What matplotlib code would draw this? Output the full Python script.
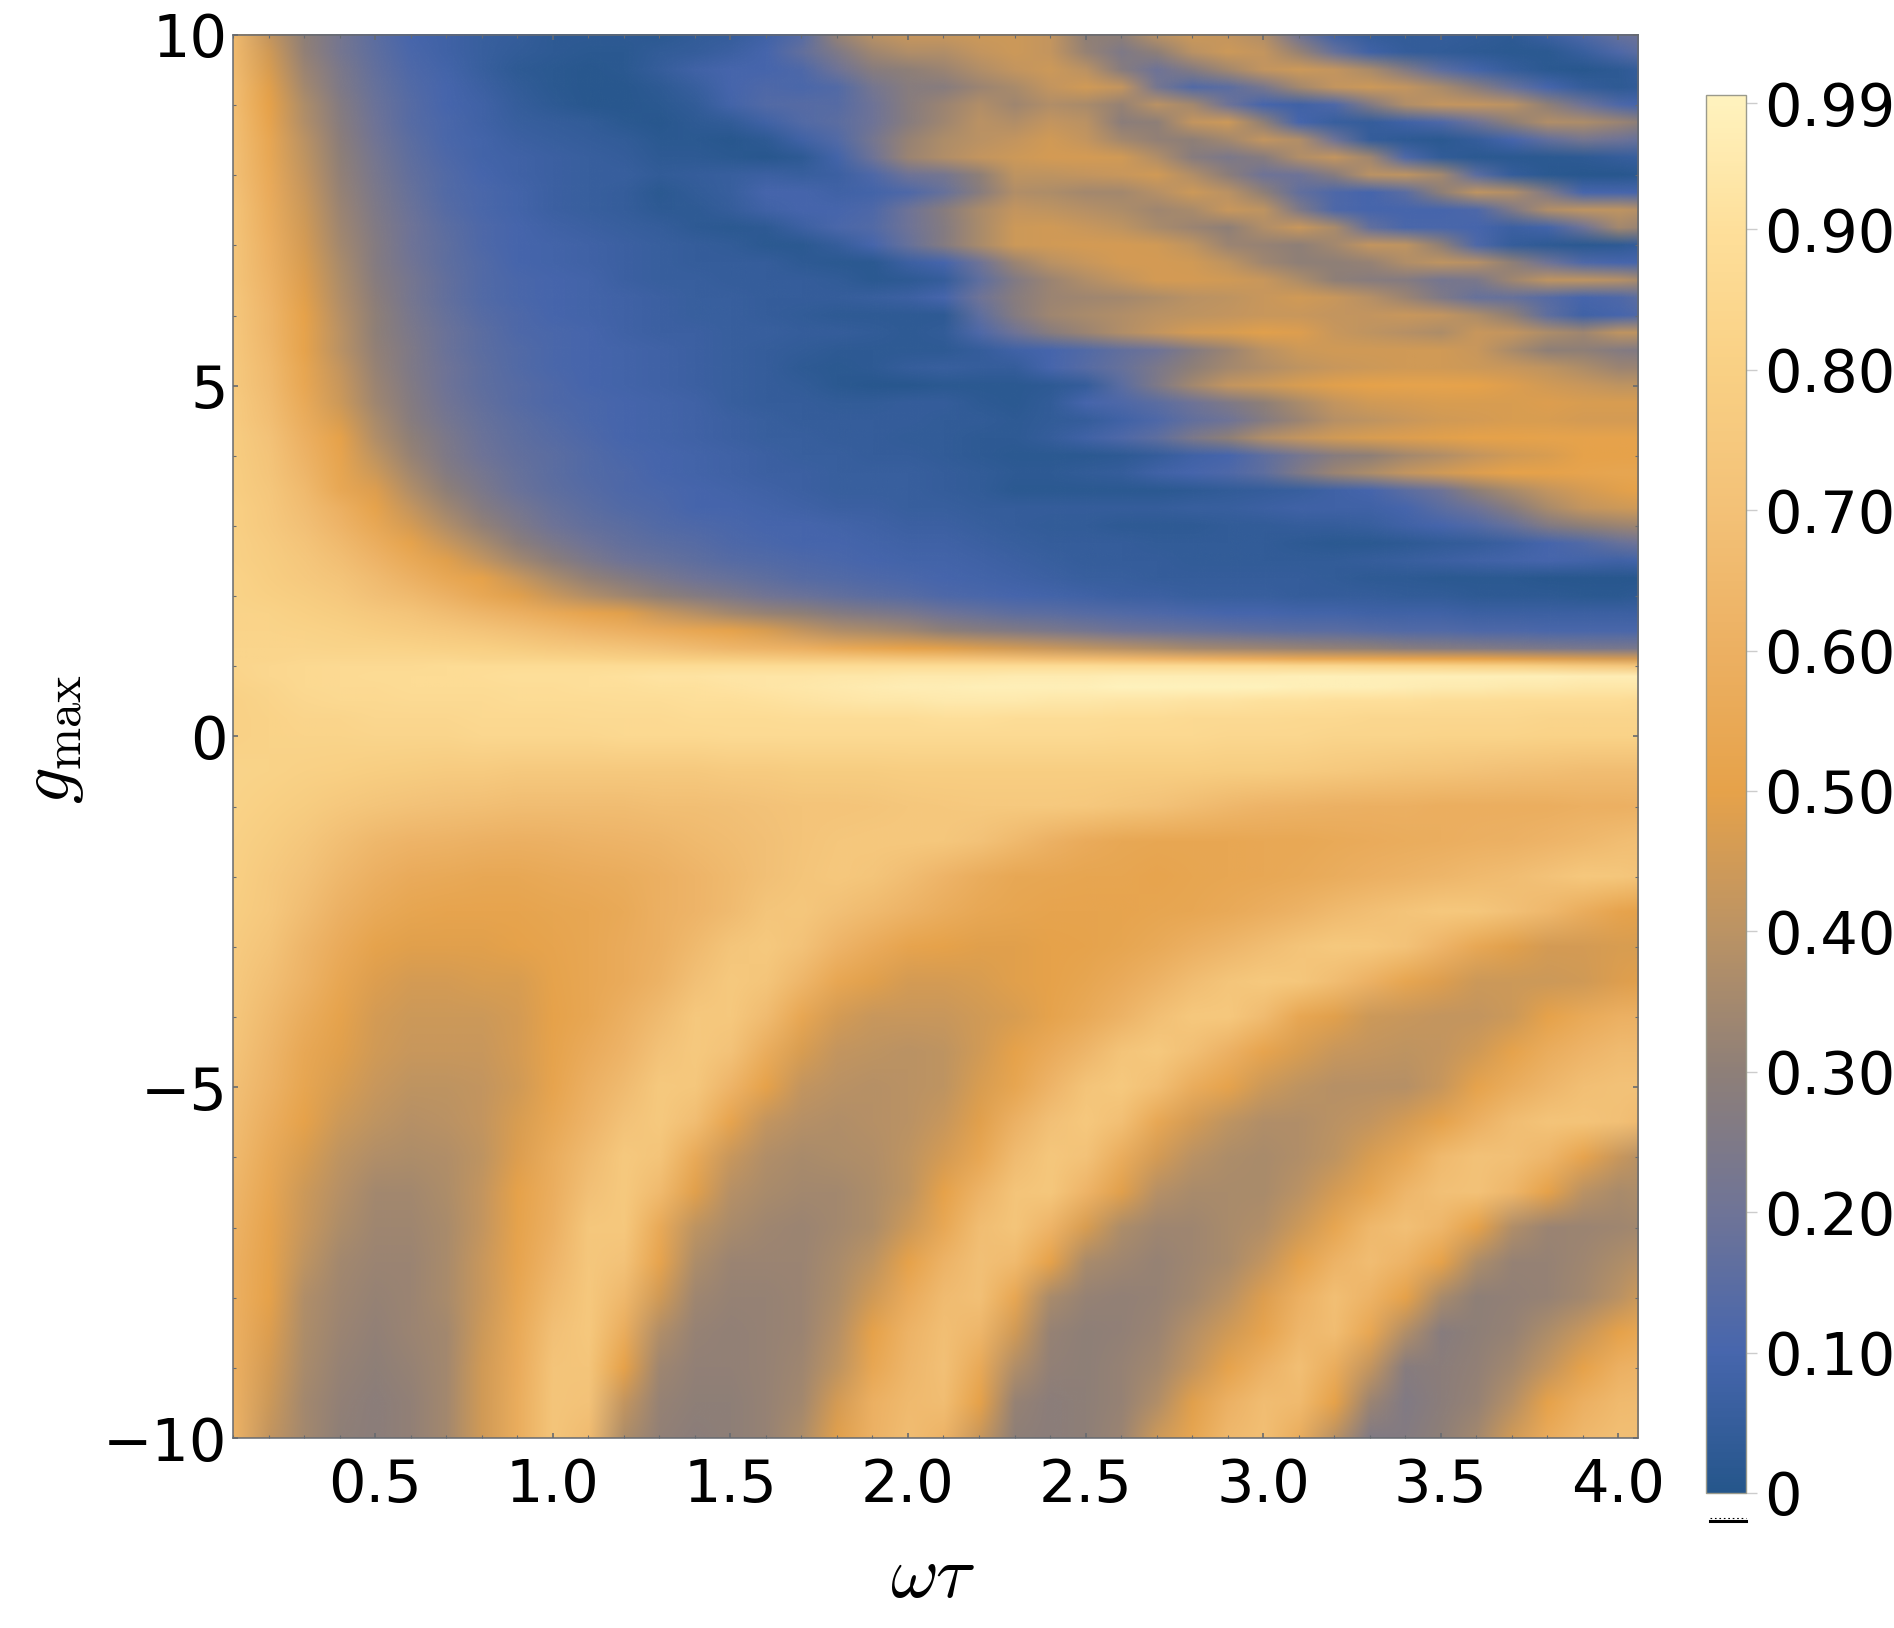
import numpy as np
import matplotlib
matplotlib.use('Agg')
import matplotlib.pyplot as plt
from matplotlib.colors import LinearSegmentedColormap, Normalize
from matplotlib.image import NonUniformImage
from matplotlib.lines import Line2D
from matplotlib.ticker import MultipleLocator

plt.rcParams['font.family'] = ['DejaVu Sans']
plt.rcParams['mathtext.fontset'] = 'cm'

# omega tau columns
wt_vals = [0.1, 0.2, 0.3, 0.4, 0.5, 0.6, 0.7, 0.8, 0.9, 1.0,
           1.1, 1.2, 1.3, 1.4, 1.5, 1.6, 1.7, 1.8, 1.9, 2.0,
           2.1, 2.2, 2.3, 2.4, 2.5, 2.6, 2.7, 2.8, 2.9, 3.0,
           3.1, 3.2, 3.3, 3.4, 3.5, 3.6, 3.7, 3.8, 3.9, 4.0, 4.055]

# g_max rows
g_lower = [-10, -9.5, -9, -8.5, -8, -7.5, -7, -6.5, -6, -5.5,
           -5, -4.5, -4, -3.5, -3, -2.5, -2, -1.5, -1, -0.5]
g_middle = [0, 0.25, 0.5, 0.7, 0.85, 1, 1.1, 1.25]
g_upper = [1.5, 1.75, 2, 2.25, 2.5, 2.75, 3, 3.25, 3.5, 3.75, 4, 4.25, 4.5, 4.75,
           5, 5.25, 5.5, 5.75, 6, 6.25, 6.5, 6.75, 7, 7.25, 7.5, 7.75,
           8, 8.25, 8.5, 8.75, 9, 9.25, 9.5, 9.75, 10]

# values in percent, one row per g_max
z_lower = [
    [62,42,35,30,29,31,35,45,58,73, 67,37,31,29,30,32,37,49,61,68, 62,43,30,29,30,33,44,53,65,69, 58,40,26,27,30,35,45,57,65,69, 69],
    [61,44,35,31,29,31,35,45,58,73, 71,42,32,30,30,32,35,46,60,66, 68,50,32,29,30,32,38,49,61,68, 66,50,33,26,29,32,39,50,60,66, 67],
    [60,46,36,32,30,32,35,45,57,72, 73,50,34,31,31,32,34,41,54,64, 70,56,38,31,30,32,35,42,51,61, 69,58,42,28,29,31,35,42,50,60, 62],
    [60,48,37,33,31,33,35,44,56,70, 75,58,38,32,31,32,33,39,50,62, 69,64,45,32,30,31,33,39,45,52, 64,68,54,38,28,30,32,37,43,50, 54],
    [60,50,38,34,32,33,36,43,54,66, 75,65,45,34,32,32,33,37,45,57, 67,70,54,36,32,31,32,35,40,48, 60,69,62,50,36,30,31,32,35,40, 44],
    [60,51,41,35,33,33,36,43,52,63, 74,71,52,37,33,33,33,36,41,50, 62,70,66,50,36,34,32,34,36,42, 51,62,68,62,50,37,32,32,34,37, 39],
    [62,52,43,37,34,34,36,42,51,60, 74,75,56,41,36,34,33,35,37,44, 55,68,73,63,47,37,34,34,36,38, 44,53,65,70,64,50,38,33,33,34, 35],
    [64,54,44,39,35,35,37,42,50,59, 70,76,66,49,39,36,35,35,37,41, 50,62,72,74,63,49,39,36,36,36, 40,46,53,64,70,71,64,50,40,36, 37],
    [66,56,47,41,38,37,38,41,48,58, 67,76,72,56,43,38,36,37,38,41, 46,54,67,74,71,58,46,40,37,36, 38,41,47,55,66,71,70,64,52,43, 40],
    [68,59,50,44,41,39,40,42,47,55, 63,71,76,68,52,42,39,38,39,40, 43,49,61,70,75,69,55,46,41,38, 38,40,42,46,51,60,68,72,72,70, 67],
    [70,62,53,47,43,41,41,42,45,52, 60,67,76,74,63,50,42,40,39,40, 41,47,53,63,72,76,69,58,51,44, 41,39,39,39,43,51,58,64,69,71, 71],
    [72,64,55,49,45,43,43,43,46,51, 57,63,71,76,71,58,47,42,41,40, 41,45,50,57,64,72,76,69,61,52, 47,43,42,41,42,45,51,58,63,67, 67],
    [74,66,58,51,46,44,44,44,46,50, 54,60,67,75,75,67,54,46,43,43, 43,45,47,51,56,62,69,75,75,67, 54,49,44,43,42,42,44,50,56,60, 61],
    [76,69,62,54,48,46,46,47,47,51, 54,57,62,70,76,73,64,54,49,46, 46,47,49,50,53,57,62,68,73,76, 74,68,61,53,48,44,44,44,45,48, 49],
    [77,72,64,57,51,49,49,49,50,52, 54,57,60,66,73,76,71,63,57,52, 50,49,49,50,51,53,56,60,64,68, 72,76,75,71,63,55,49,46,46,47, 47],
    [79,75,68,61,56,53,52,52,52,53, 54,56,60,63,67,73,74,70,66,62, 58,55,53,52,52,52,53,54,56,59, 62,66,69,72,75,74,70,65,58,52, 50],
    [80,76,71,65,60,57,56,55,55,56, 57,58,60,63,66,70,73,75,73,68, 63,58,55,54,53,53,52,53,54,55, 56,58,60,62,64,66,68,71,75,74, 72],
    [81,78,74,69,65,63,62,61,60,61, 62,63,64,66,68,70,72,74,75,75, 74,71,66,61,57,55,54,54,54,55, 55,56,57,58,59,60,61,63,65,68, 69],
    [82,80,78,75,73,71,70,69,68,68, 68,68,69,69,70,71,72,72,73,74, 75,76,76,76,75,73,71,68,65,63, 62,61,60,60,59,59,59,59,60,60, 61],
    [83,82,81,80,79,78,77,77,76,76, 76,76,76,76,77,77,78,78,78,79, 79,79,79,79,79,79,79,79,78,78, 77,76,74,73,72,71,70,69,68,68, 68],
]

z_middle = [
    [81,82,83,83,84,84,84,85,85,85, 85,86,86,86,87,87,87,87,87,87, 87,87,87,87,87,86,86,86,85,85, 85,84,84,84,83,83,83,82,82,82, 82],
    [81,82,84,84,85,85,85,86,86,86, 87,87,87,88,88,88,89,89,89,89, 90,90,89,89,89,88,88,87,87,87, 86,86,85,85,85,85,85,84,84,84, 84],
    [81,83,85,86,86,87,87,87,88,88, 88,89,89,90,90,91,92,93,94,94, 95,95,95,94,94,93,93,92,92,91, 91,90,90,90,89,89,88,88,88,88, 87],
    [82,84,86,87,87,88,88,88,89,89, 90,90,91,91,92,93,94,95,96,97, 97,98,98,98,98,99,99,99,99,99, 98,98,98,97,96,96,95,95,94,94, 94],
    [83,85,86,87,88,88,88,89,90,90, 90,91,92,92,93,93,93,94,94,95, 95,95,96,96,96,97,97,97,97,97, 98,98,98,98,98,98,98,98,97,97, 97],
    [84,85,86,87,87,87,88,88,88,88, 88,88,88,88,88,88,88,88,88,88, 88,88,88,88,88,87,87,87,86,86, 85,85,84,83,82,81,80,78,76,74, 73],
    [84,84,85,85,85,85,85,84,84,83, 82,81,80,79,78,77,76,75,74,73, 72,71,70,68,67,65,63,61,59,57, 55,54,53,52,51,50,49,48,47,46, 46],
    [84,84,84,83,83,82,81,80,78,76, 74,72,70,67,64,62,60,56,53,50, 49,47,45,43,41,39,37,35,34,33, 32,31,30,28,27,26,25,24,23,23, 23],
]

z_upper = [
    [83,83,82,81,79,77,75,72,69,66, 63,60,57,54,51,47,42,38,36,34, 30,28,26,24,22,20,19,18,17,16, 15,15,14,13,13,12,12,11,11,11, 11],
    [83,82,80,78,75,72,68,64,60,56, 52,49,43,39,35,32,30,27,25,23, 20,18,16,15,14,13,12,11,10,10, 9,9,8,8,8,7,7,7,7,7, 7],
    [82,80,78,75,70,66,61,55,49,43, 38,34,30,27,24,21,19,17,15,14, 12,11,10,9,8,7,7,6,6,6, 5,5,5,4,4,3,3,3,2,2, 3],
    [82,79,76,72,67,61,55,50,43,36, 31,27,23,20,18,16,14,13,12,11, 10,9,8,7,6,6,5,5,5,5, 5,4,3,3,2,2,2,1,1,1, 1],
    [81,78,74,69,63,56,49,42,35,29, 24,20,18,16,14,13,12,11,10,9, 9,8,7,6,5,5,5,4,4,4, 4,4,5,6,7,8,9,10,9,8, 9],
    [81,77,72,66,59,51,43,36,29,24, 20,17,15,14,12,11,10,10,9,8, 8,7,6,5,5,5,4,4,4,4, 3,2,2,3,4,5,7,10,13,18, 20],
    [80,76,70,63,55,46,38,31,25,20, 17,15,13,12,11,10,10,9,8,7, 7,6,5,4,4,3,3,3,4,4, 5,5,6,8,10,13,18,26,30,33, 34],
    [80,75,68,60,51,42,34,27,22,18, 15,13,12,10,10,9,8,7,7,6, 6,5,5,5,5,5,5,6,6,7, 8,8,8,10,15,20,28,36,42,44, 45],
    [79,74,66,55,48,38,30,24,19,16, 14,12,11,10,9,8,7,6,6,6, 5,4,2,2,2,2,2,3,4,5, 6,8,10,15,20,30,36,42,46,49, 50],
    [79,73,64,53,44,35,27,22,18,15, 13,12,10,9,8,7,7,6,6,6, 5,4,3,3,4,5,8,10,12,16, 25,33,37,42,45,48,50,50,52,53, 53],
    [78,72,62,52,41,32,25,20,17,15, 13,11,10,9,8,7,6,6,5,5, 4,3,2,2,2,3,5,8,10,16, 22,28,30,35,38,42,45,47,50,50, 50],
    [78,71,60,50,38,30,24,19,16,14, 12,10,9,8,7,6,6,5,5,4, 4,3,3,5,8,12,16,24,30,38, 42,45,47,48,49,50,50,51,51,51, 51],
    [77,69,58,47,36,28,22,18,15,13, 11,10,9,8,7,6,5,5,5,5, 4,4,3,4,5,8,12,17,20,27, 33,39,41,43,45,46,47,47,46,46, 46],
    [77,68,56,44,34,27,21,17,14,12, 11,10,9,8,6,5,5,4,4,5, 5,3,2,4,10,12,15,20,25,30, 36,42,45,46,47,47,47,48,47,47, 47],
    [76,67,54,43,33,26,20,16,14,12, 10,9,8,7,6,5,4,2,1,1, 2,2,2,3,5,15,25,35,42,44, 47,49,50,51,51,50,48,45,43,41, 41],
    [76,66,53,42,32,25,20,16,13,11, 10,9,8,7,6,5,3,2,3,5, 6,5,5,10,14,18,24,30,35,38, 41,43,44,45,45,44,43,41,37,33, 33],
    [75,65,51,40,31,25,19,15,13,11, 10,9,8,7,6,5,4,3,3,3, 3,5,8,10,13,17,20,27,33,40, 44,45,45,45,45,43,36,30,30,27, 26],
    [75,64,51,40,30,24,19,15,12,11, 10,8,7,7,6,6,5,5,4,3, 4,12,20,28,33,38,42,46,47,49, 48,43,41,39,37,43,42,37,34,41, 41],
    [74,64,50,39,30,23,18,14,12,10, 9,8,7,6,6,5,4,3,3,3, 3,16,27,34,36,38,40,41,42,43, 43,42,42,43,42,37,30,16,8,10, 12],
    [74,63,49,38,29,22,17,13,11,10, 9,8,7,6,6,5,5,5,6,7, 10,20,28,33,34,35,37,40,41,43, 45,43,39,33,25,18,18,14,10,12, 15],
    [73,62,48,37,28,22,17,13,11,10, 9,7,6,6,5,5,5,4,2,3, 5,16,26,33,38,42,46,46,45,43, 37,30,28,27,22,24,34,41,41,39, 36],
    [73,61,47,36,27,21,16,13,10,9, 8,7,6,5,5,5,3,2,2,7, 10,20,33,40,43,46,46,45,41,34, 30,30,32,38,41,39,30,20,12,10, 10],
    [73,60,46,35,27,20,16,12,10,9, 8,7,6,5,4,2,2,5,10,18, 27,36,44,45,46,46,45,41,33,32, 30,35,42,41,30,12,5,3,2,3, 5],
    [72,59,45,34,26,20,15,12,10,8, 7,6,5,3,2,3,7,11,13,20, 27,36,44,45,43,41,36,33,30,38, 43,36,17,11,11,10,7,9,20,35, 33],
    [72,58,44,33,25,19,14,11,9,7, 6,5,3,3,5,8,10,10,12,20, 28,36,42,41,39,37,34,36,43,41, 25,12,10,10,10,12,25,38,41,41, 39],
    [71,57,43,32,24,18,13,11,9,7, 6,5,2,4,6,10,10,8,9,12, 18,28,38,37,35,35,39,44,40,30, 17,12,10,15,30,41,38,25,10,10, 10],
    [70,56,42,31,23,17,13,10,8,7, 6,6,4,5,6,7,6,7,12,20, 22,30,41,41,42,43,45,38,29,20, 20,28,40,41,35,15,5,2,1,1, 2],
    [70,55,41,30,22,16,12,9,8,7, 6,5,3,3,2,1,3,9,20,33, 38,42,44,46,46,45,38,28,24,28, 38,42,34,12,4,2,2,2,3,5, 6],
    [69,54,40,29,21,15,11,9,7,6, 5,4,2,2,1,3,8,13,22,32, 37,40,42,45,42,35,31,30,35,42, 38,20,5,3,2,5,10,17,22,20, 18],
    [69,52,38,28,20,14,11,8,6,5, 4,2,1,3,4,8,13,15,20,28, 34,40,38,42,40,29,30,42,44,30, 10,6,5,8,12,20,30,38,37,33, 30],
    [68,50,37,27,19,14,10,8,5,3, 1,1,2,4,9,13,14,14,20,28, 33,38,34,38,36,32,40,35,20,10, 8,12,26,38,42,42,40,30,20,12, 10],
    [68,49,35,25,18,13,10,7,4,2, 1,1,3,6,10,12,11,13,22,28, 28,33,36,42,45,42,22,13,15,23, 35,42,44,42,36,28,18,10,5,3, 4],
    [67,47,33,24,17,12,9,6,3,2, 1,2,5,8,10,10,12,20,28,30, 33,38,42,44,40,28,20,27,35,42, 44,42,36,26,15,9,5,2,1,3, 5],
    [66,45,31,22,16,11,8,6,4,3, 2,2,4,5,7,10,17,25,34,38, 38,42,44,42,32,25,30,40,44,42, 32,18,8,5,4,3,2,2,6,12, 15],
    [66,42,30,22,15,10,8,6,5,3, 3,3,2,4,5,8,14,32,40,43, 43,44,44,42,30,30,40,44,42,38, 20,8,5,4,5,4,3,7,12,18, 20],
]

# colorbar anchors, value then colour
cbar_levels = [0.0, 0.1, 0.2, 0.3, 0.4, 0.5, 0.6, 0.7, 0.8, 0.9, 0.9957]
cbar_colors = ['#25568b', '#4766ad', '#6f7497', '#8e7f78', '#bb9364', '#e6a24a',
               '#ecb062', '#f3c177', '#f9d084', '#fedf9a', '#fff3bf']
cbar_ticks = [0, 0.1, 0.2, 0.3, 0.4, 0.5, 0.6, 0.7, 0.8, 0.9, 0.99]
cbar_labels = ['0', '0.10', '0.20', '0.30', '0.40', '0.50', '0.60', '0.70', '0.80', '0.90', '0.99']
x_ticks = [0.5, 1.0, 1.5, 2.0, 2.5, 3.0, 3.5, 4.0]
y_ticks = [-10, -5, 0, 5, 10]


def px_rect(left, top, right, bottom):
    return [left / 1894, 1 - bottom / 1628, (right - left) / 1894, (bottom - top) / 1628]


def main():
    g_vals = g_lower + g_middle + g_upper
    z = np.array(z_lower + z_middle + z_upper, dtype=float) / 100
    vmax = cbar_levels[-1]
    cmap = LinearSegmentedColormap.from_list(
        'bands', [(v / vmax, c) for v, c in zip(cbar_levels, cbar_colors)], N=512)

    fig = plt.figure(figsize=(18.94, 16.28), dpi=100)
    ax = fig.add_axes(px_rect(233, 35, 1638, 1438))
    im = NonUniformImage(ax, interpolation='bilinear', cmap=cmap, norm=Normalize(0, vmax))
    im.set_data(wt_vals, g_vals, z)
    ax.add_image(im)
    ax.set_xlim(0.1, 4.055)
    ax.set_ylim(-10, 10)
    ax.set_xticks(x_ticks)
    ax.set_xticklabels(['%.1f' % t for t in x_ticks])
    ax.set_yticks(y_ticks)
    ax.xaxis.set_minor_locator(MultipleLocator(0.1))
    ax.yaxis.set_minor_locator(MultipleLocator(1))
    ax.tick_params(which='major', direction='in', length=3.5, width=1.2, color='#666a70',
                   top=True, right=True, labelsize=42.5)
    ax.tick_params(which='minor', direction='in', length=2, width=0.8, color='#666a70',
                   top=True, right=True)
    ax.tick_params(axis='x', which='major', pad=14)
    ax.tick_params(axis='y', which='major', pad=4)
    for s in ax.spines.values():
        s.set_color('#666a70')
        s.set_linewidth(1.1)

    cax = fig.add_axes(px_rect(1706, 95, 1746, 1493))
    cb = fig.colorbar(im, cax=cax, ticks=cbar_ticks)
    cb.ax.set_yticklabels(cbar_labels)
    cb.ax.tick_params(length=8, width=1, color='#cccccc', labelsize=42.5, pad=5)
    cb.outline.set_edgecolor('#9a9a8c')
    cb.outline.set_linewidth(1)

    # little black dash left under the bar
    fig.add_artist(Line2D([1710 / 1894, 1746 / 1894], [1 - 1520.5 / 1628] * 2, color='black', lw=2.2))
    fig.add_artist(Line2D([1710 / 1894, 1746 / 1894], [1 - 1518 / 1628] * 2, color='black', lw=0.8,
                          linestyle=(0, (1.5, 2.5))))

    fig.text(933 / 1894, 1 - 1577 / 1628, r'$\omega\tau$', fontsize=53, ha='center', va='center')
    fig.text(52 / 1894, 1 - 739 / 1628, r'$g_{\mathrm{max}}$', fontsize=52, rotation=90,
             ha='center', va='center')

    fig.savefig('out.png', dpi=100)


if __name__ == "__main__":
    main()
